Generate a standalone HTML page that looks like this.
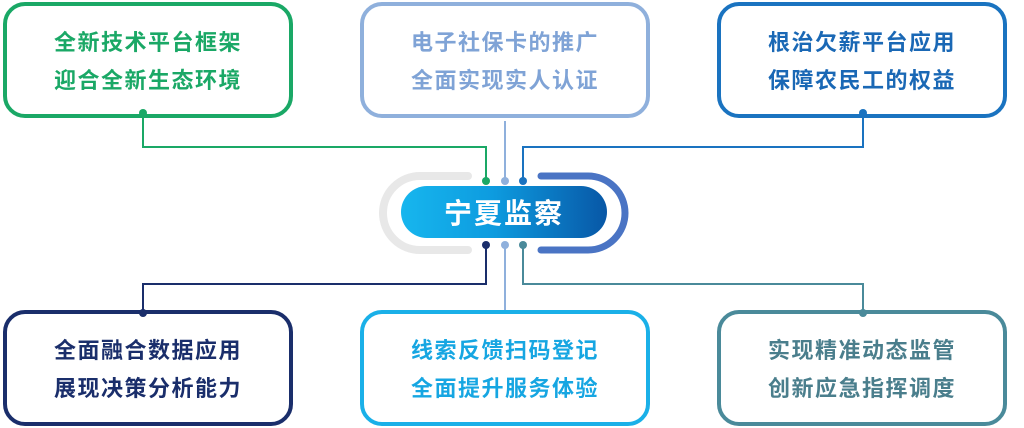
<!DOCTYPE html>
<html><head><meta charset="utf-8"><style>
body{margin:0;width:1024px;height:428px;background:#fff;position:relative;overflow:hidden;font-family:"Liberation Sans","Noto Sans CJK SC",sans-serif}
.b{position:absolute;width:282px;height:108px;border:4px solid;border-radius:22px;background:#fff;box-sizing:content-box;display:flex;flex-direction:column;justify-content:center;align-items:center;font-weight:bold;font-size:22px;line-height:38px;letter-spacing:1.5px;padding-top:3px;height:105px}
.c{position:absolute;left:401px;top:186px;width:206px;height:52px;border-radius:26px;background:linear-gradient(90deg,#17b6ee 0%,#0d9bdf 45%,#0857a6 100%);color:#fff;font-weight:bold;font-size:28px;display:flex;align-items:center;justify-content:center;letter-spacing:2px}
svg{z-index:2}
</style></head><body>
<div class="b" style="left:3px;top:2px;border-color:#1aa866;color:#1aa866"><div>全新技术平台框架</div><div>迎合全新生态环境</div></div>
<div class="b" style="left:360px;top:2px;border-color:#8fb0dc;color:#7fa3d6"><div>电子社保卡的推广</div><div>全面实现实人认证</div></div>
<div class="b" style="left:717px;top:2px;border-color:#1a73c0;color:#1a68b5"><div>根治欠薪平台应用</div><div>保障农民工的权益</div></div>
<div class="b" style="left:3px;top:310px;border-color:#1a2e6b;color:#1a2e6b"><div>全面融合数据应用</div><div>展现决策分析能力</div></div>
<div class="b" style="left:360px;top:310px;border-color:#1ab0e8;color:#16a6e2"><div>线索反馈扫码登记</div><div>全面提升服务体验</div></div>
<div class="b" style="left:717px;top:310px;border-color:#4a8a9a;color:#4a7e8c"><div>实现精准动态监管</div><div>创新应急指挥调度</div></div>
<svg width="1024" height="428" style="position:absolute;left:0;top:0">
<g fill="none" stroke-width="2">
<path d="M143 113V147H486V181" stroke="#1aa866"/>
<path d="M505 121V181" stroke="#8fb0dc"/>
<path d="M863 113V147H523V181" stroke="#1a73c0"/>
<path d="M486 245V284H143V313" stroke="#1a2e6b"/>
<path d="M505 245V310" stroke="#8fb0dc"/>
<path d="M523 245V284H863V313" stroke="#4a8a9a"/>
</g>
<path d="M468 176H420A37 37 0 0 0 420 250H468" fill="none" stroke="#e8e8e8" stroke-width="8" stroke-linecap="round"/>
<path d="M541 176H588A37 37 0 0 1 588 250H541" fill="none" stroke="#4a74c4" stroke-width="7" stroke-linecap="round"/>
<g>
<circle cx="143" cy="113" r="4" fill="#1aa866"/><circle cx="863" cy="113" r="4" fill="#1a73c0"/>
<circle cx="143" cy="313" r="4" fill="#1a2e6b"/><circle cx="863" cy="313" r="4" fill="#4a8a9a"/>
<circle cx="486" cy="181" r="4" fill="#1aa866"/><circle cx="505" cy="181" r="4" fill="#8fb0dc"/><circle cx="523" cy="181" r="4" fill="#1a73c0"/>
<circle cx="486" cy="245" r="4" fill="#1a2e6b"/><circle cx="505" cy="245" r="4" fill="#8fb0dc"/><circle cx="523" cy="245" r="4" fill="#4a8a9a"/>
</g>
</svg>
<div class="c" style="z-index:3">宁夏监察</div>
</body></html>
